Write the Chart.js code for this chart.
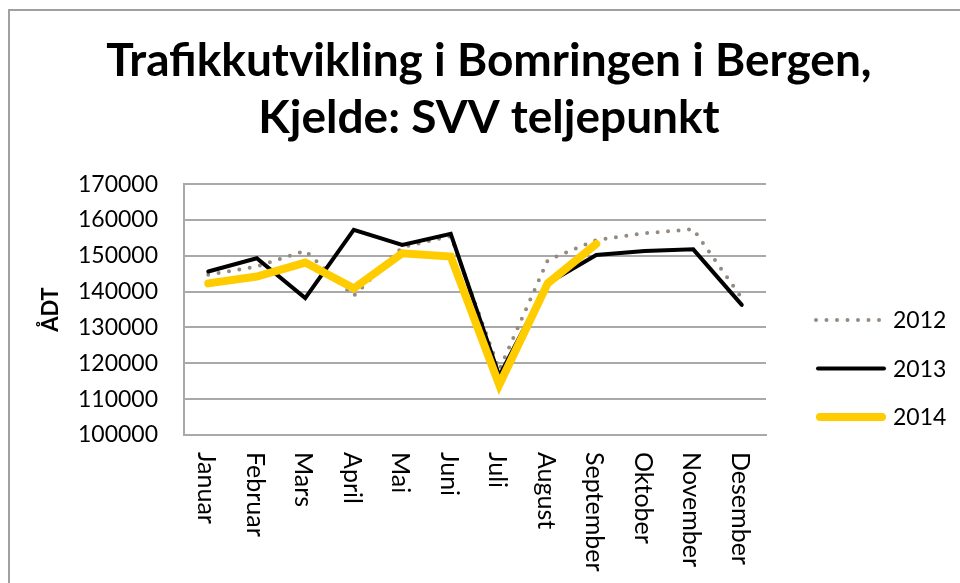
<!DOCTYPE html>
<html>
<head>
<meta charset="utf-8">
<script src="https://cdn.jsdelivr.net/npm/chart.js@4.4.1/dist/chart.umd.min.js"></script>
<style>
  html, body { margin: 0; padding: 0; background: #fff; overflow: hidden; }
  #ramme { position: absolute; left: 8px; top: 9px; width: 1200px; height: 800px;
           border-left: 2px solid #a0a0a0; border-top: 2px solid #a0a0a0; }
  #wrap { position: absolute; left: 0; top: 0; width: 960px; height: 583px; }
</style>
</head>
<body>
<div id="ramme"></div>
<div id="wrap"><canvas id="graf"></canvas></div>
<script>
// Data lest av figuren (ÅDT per månad)
const maanader = ['Januar', 'Februar', 'Mars', 'April', 'Mai', 'Juni', 'Juli',
                  'August', 'September', 'Oktober', 'November', 'Desember'];
const aar2012 = [144700, 147000, 151400, 138800, 152400, 155500, 118200, 148800, 154400, 156300, 157400, 138200];
const aar2013 = [145600, 149300, 138200, 157200, 153000, 156100, 116500, 142300, 150200, 151300, 151800, 136300];
const aar2014 = [142300, 144200, 148100, 140900, 150700, 149800, 114000, 142300, 153300, null, null, null];
const yTicks = [100000, 110000, 120000, 130000, 140000, 150000, 160000, 170000];

const FONT = 'Lato';
const grid = '#a9a9a9';

// x-etikettane skal lesast ovanfrå og ned, så dei blir teikna her
const maanadEtikettar = {
    id: 'maanadEtikettar',
    afterDraw(chart) {
        const ctx = chart.ctx;
        const x = chart.scales.x;
        ctx.save();
        ctx.font = '25px ' + FONT;
        ctx.fillStyle = '#000';
        ctx.textAlign = 'left';
        ctx.textBaseline = 'middle';
        maanader.forEach((m, i) => {
            ctx.save();
            ctx.translate(x.getPixelForTick(i) - 2, x.top + 17);
            ctx.rotate(Math.PI / 2);
            ctx.fillText(m, 0, 0);
            ctx.restore();
        });
        ctx.restore();
    }
};

// forklaring til høgre, med linjestil frå datasetta
const forklaring = {
    id: 'forklaring',
    afterDraw(chart) {
        const ctx = chart.ctx;
        const x0 = chart.chartArea.right + 50;
        const y0 = 320;
        ctx.save();
        chart.data.datasets.forEach((ds, i) => {
            const y = y0 + i * 48.5;
            ctx.save();
            ctx.strokeStyle = ds.borderColor;
            ctx.lineWidth = ds.borderWidth;
            ctx.lineCap = 'round';
            ctx.setLineDash(ds.borderDash || []);
            ctx.beginPath();
            const inn = ds.borderDash ? 0 : ds.borderWidth / 2;
            ctx.moveTo(x0 + inn, y);
            ctx.lineTo(x0 + 70 - inn, y);
            ctx.stroke();
            ctx.restore();
            ctx.fillStyle = '#000';
            ctx.font = '23px ' + FONT;
            ctx.textBaseline = 'middle';
            ctx.fillText(ds.label, x0 + 77, y + 1);
        });
        ctx.restore();
    }
};

new Chart(document.getElementById('graf'), {
    type: 'line',
    data: {
        labels: maanader,
        datasets: [
            {
                label: '2012', data: aar2012, order: 3,
                borderColor: '#948a80', borderWidth: 4,
                borderDash: [0, 10.5], borderCapStyle: 'round',
                pointRadius: 0, tension: 0
            },
            {
                label: '2013', data: aar2013, order: 2,
                borderColor: '#000', borderWidth: 4, borderCapStyle: 'round',
                pointRadius: 0, tension: 0
            },
            {
                label: '2014', data: aar2014, order: 1,
                borderColor: '#ffcc00', borderWidth: 8, borderCapStyle: 'round',
                pointRadius: 0, tension: 0
            }
        ]
    },
    options: {
        responsive: true,
        maintainAspectRatio: false,
        animation: false,
        layout: { padding: { left: 18, right: 0, top: 33, bottom: 0 } },
        plugins: {
            title: {
                display: true,
                text: ['Trafikkutvikling i Bomringen i Bergen,', 'Kjelde: SVV teljepunkt'],
                color: '#000',
                font: { family: FONT, size: 46, weight: 'bold', lineHeight: 1.24 },
                padding: { top: 0, bottom: 37 }
            },
            legend: { display: false },
            tooltip: { enabled: false }
        },
        scales: {
            x: {
                offset: true,
                grid: { display: false },
                border: { display: true, color: grid, width: 2 },
                ticks: { display: false },
                afterFit(scale) { scale.height = 148; }
            },
            y: {
                min: 100000, max: 170000,
                afterBuildTicks(scale) { scale.ticks = yTicks.map(v => ({ value: v })); },
                afterFit(scale) { scale.width = 166; },
                grid: { color: grid, lineWidth: 2, drawTicks: false },
                border: { display: true, color: grid, width: 2 },
                ticks: {
                    color: '#000', padding: 26, font: { family: FONT, size: 23 },
                    callback: v => String(v)
                },
                title: {
                    display: true, text: 'ÅDT', color: '#000',
                    font: { family: FONT, size: 22, weight: 'bold' },
                    padding: { top: 20, bottom: 10 }
                }
            },
            // tom akse til høgre som held av plass til forklaringa
            plass: {
                type: 'linear',
                position: 'right',
                grid: { display: false },
                border: { display: false },
                ticks: { display: false },
                afterFit(scale) { scale.width = 194; }
            }
        }
    },
    plugins: [maanadEtikettar, forklaring]
});
</script>
</body>
</html>
